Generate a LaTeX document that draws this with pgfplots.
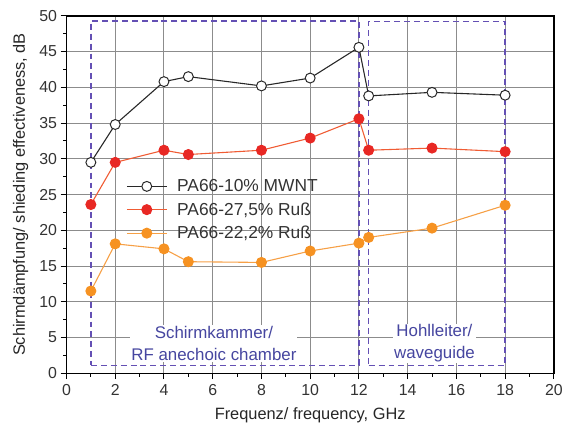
\documentclass[border=0pt]{standalone}
\usepackage{fontspec}
\setmainfont{Liberation Sans}
\usepackage{pgfplots}
\pgfplotsset{compat=1.18}
\definecolor{boxColor}{RGB}{100,80,180}
\definecolor{txtColor}{RGB}{70,70,160}
\definecolor{redMark}{RGB}{232,40,36}
\definecolor{redLine}{RGB}{240,92,52}
\definecolor{orgMark}{RGB}{246,146,34}
\definecolor{orgLine}{RGB}{246,160,70}
\definecolor{blkLine}{RGB}{40,40,40}
\definecolor{gridColor}{RGB}{140,140,140}

\begin{document}
\begin{tikzpicture}
\begin{axis}[
    name=main,
    scale only axis,
    width=491pt,
    height=360pt,
    xmin=0, xmax=20,
    ymin=0, ymax=50,
    xtick={0,2,...,20},
    ytick={0,5,...,50},
    minor x tick num=1,
    minor y tick num=1,
    tick pos=left,
    tick align=outside,
    major tick length=6pt,
    minor tick length=3.5pt,
    tick style={black, line width=1pt},
    axis line style={black, line width=1.4pt},
    axis on top,
    /pgf/number format/assume math mode=true,
    tick label style={font=\fontsize{16}{18}\selectfont, text=black!80},
    xticklabel style={yshift=-2pt},
    label style={font=\fontsize{16.5}{19}\selectfont, text=black!85},
    xlabel={Frequenz/ frequency, GHz},
    ylabel={Schirmdämpfung/ shieding effectiveness, dB},
    xlabel style={at={(axis description cs:0.5,-0.117)}, anchor=center},
    ylabel style={at={(axis description cs:-0.094,0.5)}, anchor=center},
    legend style={
        draw=none, fill=none,
        at={(axis cs:2.45,27.4)}, anchor=north west,
        inner sep=0pt,
        font=\fontsize{17.5}{20}\selectfont,
        text=black!80,
        row sep=5.5pt,
        /tikz/every even column/.append style={column sep=0pt},
    },
    legend cell align=left,
    legend image code/.code={
        \draw[mark repeat=2, mark phase=2, #1] plot coordinates {(0pt,0pt) (20pt,0pt) (40pt,0pt)};
    },
]
    % grid (solid grey so that every line renders)
    \pgfplotsinvokeforeach{2,4,...,18}{
        \addplot[gridColor, line width=1pt, forget plot]
            coordinates {(#1,0) (#1,50)};
    }
    \pgfplotsinvokeforeach{5,10,...,45}{
        \addplot[gridColor, line width=1pt, forget plot]
            coordinates {(0,#1) (20,#1)};
    }

    % measuring ranges (dashed frames)
    \addplot[boxColor, line width=1.5pt, dash pattern=on 6pt off 4pt, forget plot]
        coordinates {(1,1.1) (12,1.1) (12,49.3) (1,49.3) (1,1.1)};
    \addplot[boxColor, line width=1.5pt, dash pattern=on 6pt off 4pt, forget plot]
        coordinates {(12.4,1.1) (18,1.1) (18,49.2) (12.4,49.2) (12.4,1.1)};

    \node[fill=white, inner sep=1pt, align=center, text=txtColor,
          font=\fontsize{17}{22}\selectfont] at (axis cs:6.05,4.15)
          {Schirmkammer/\\RF anechoic chamber};
    \node[fill=white, inner sep=1pt, align=center, text=txtColor,
          font=\fontsize{17}{22}\selectfont] at (axis cs:15.1,4.15)
          {Hohlleiter/\\waveguide};

    % PA66-10% MWNT
    \addplot[blkLine, line width=1.1pt, mark=*, mark size=5pt,
             mark options={fill=white, draw=blkLine, line width=1pt}] coordinates {
        (1,29.5) (2,34.8) (4,40.8) (5,41.5) (8,40.2) (10,41.3) (12,45.6)
        (12.4,38.8) (15,39.3) (18,38.9)
    };
    % PA66-27,5% Russ
    \addplot[redLine, line width=1.1pt, mark=*, mark size=5pt,
             mark options={fill=redMark, draw=redMark}] coordinates {
        (1,23.6) (2,29.5) (4,31.2) (5,30.6) (8,31.2) (10,32.9) (12,35.6)
        (12.4,31.2) (15,31.5) (18,31.0)
    };
    % PA66-22,2% Russ
    \addplot[orgLine, line width=1.1pt, mark=*, mark size=5pt,
             mark options={fill=orgMark, draw=orgMark}] coordinates {
        (1,11.5) (2,18.1) (4,17.4) (5,15.6) (8,15.5) (10,17.1) (12,18.2)
        (12.4,19.0) (15,20.3) (18,23.5)
    };
    \legend{{\hspace{8pt}PA66-10\% MWNT}, {\hspace{8pt}PA66-27,5\% Ruß}, {\hspace{8pt}PA66-22,2\% Ruß}}
\end{axis}
% page margins as in the reference
\path (main.south west) ++(-67pt,-60pt);
\path (main.north east) ++(8pt,16pt);
\end{tikzpicture}
\end{document}
